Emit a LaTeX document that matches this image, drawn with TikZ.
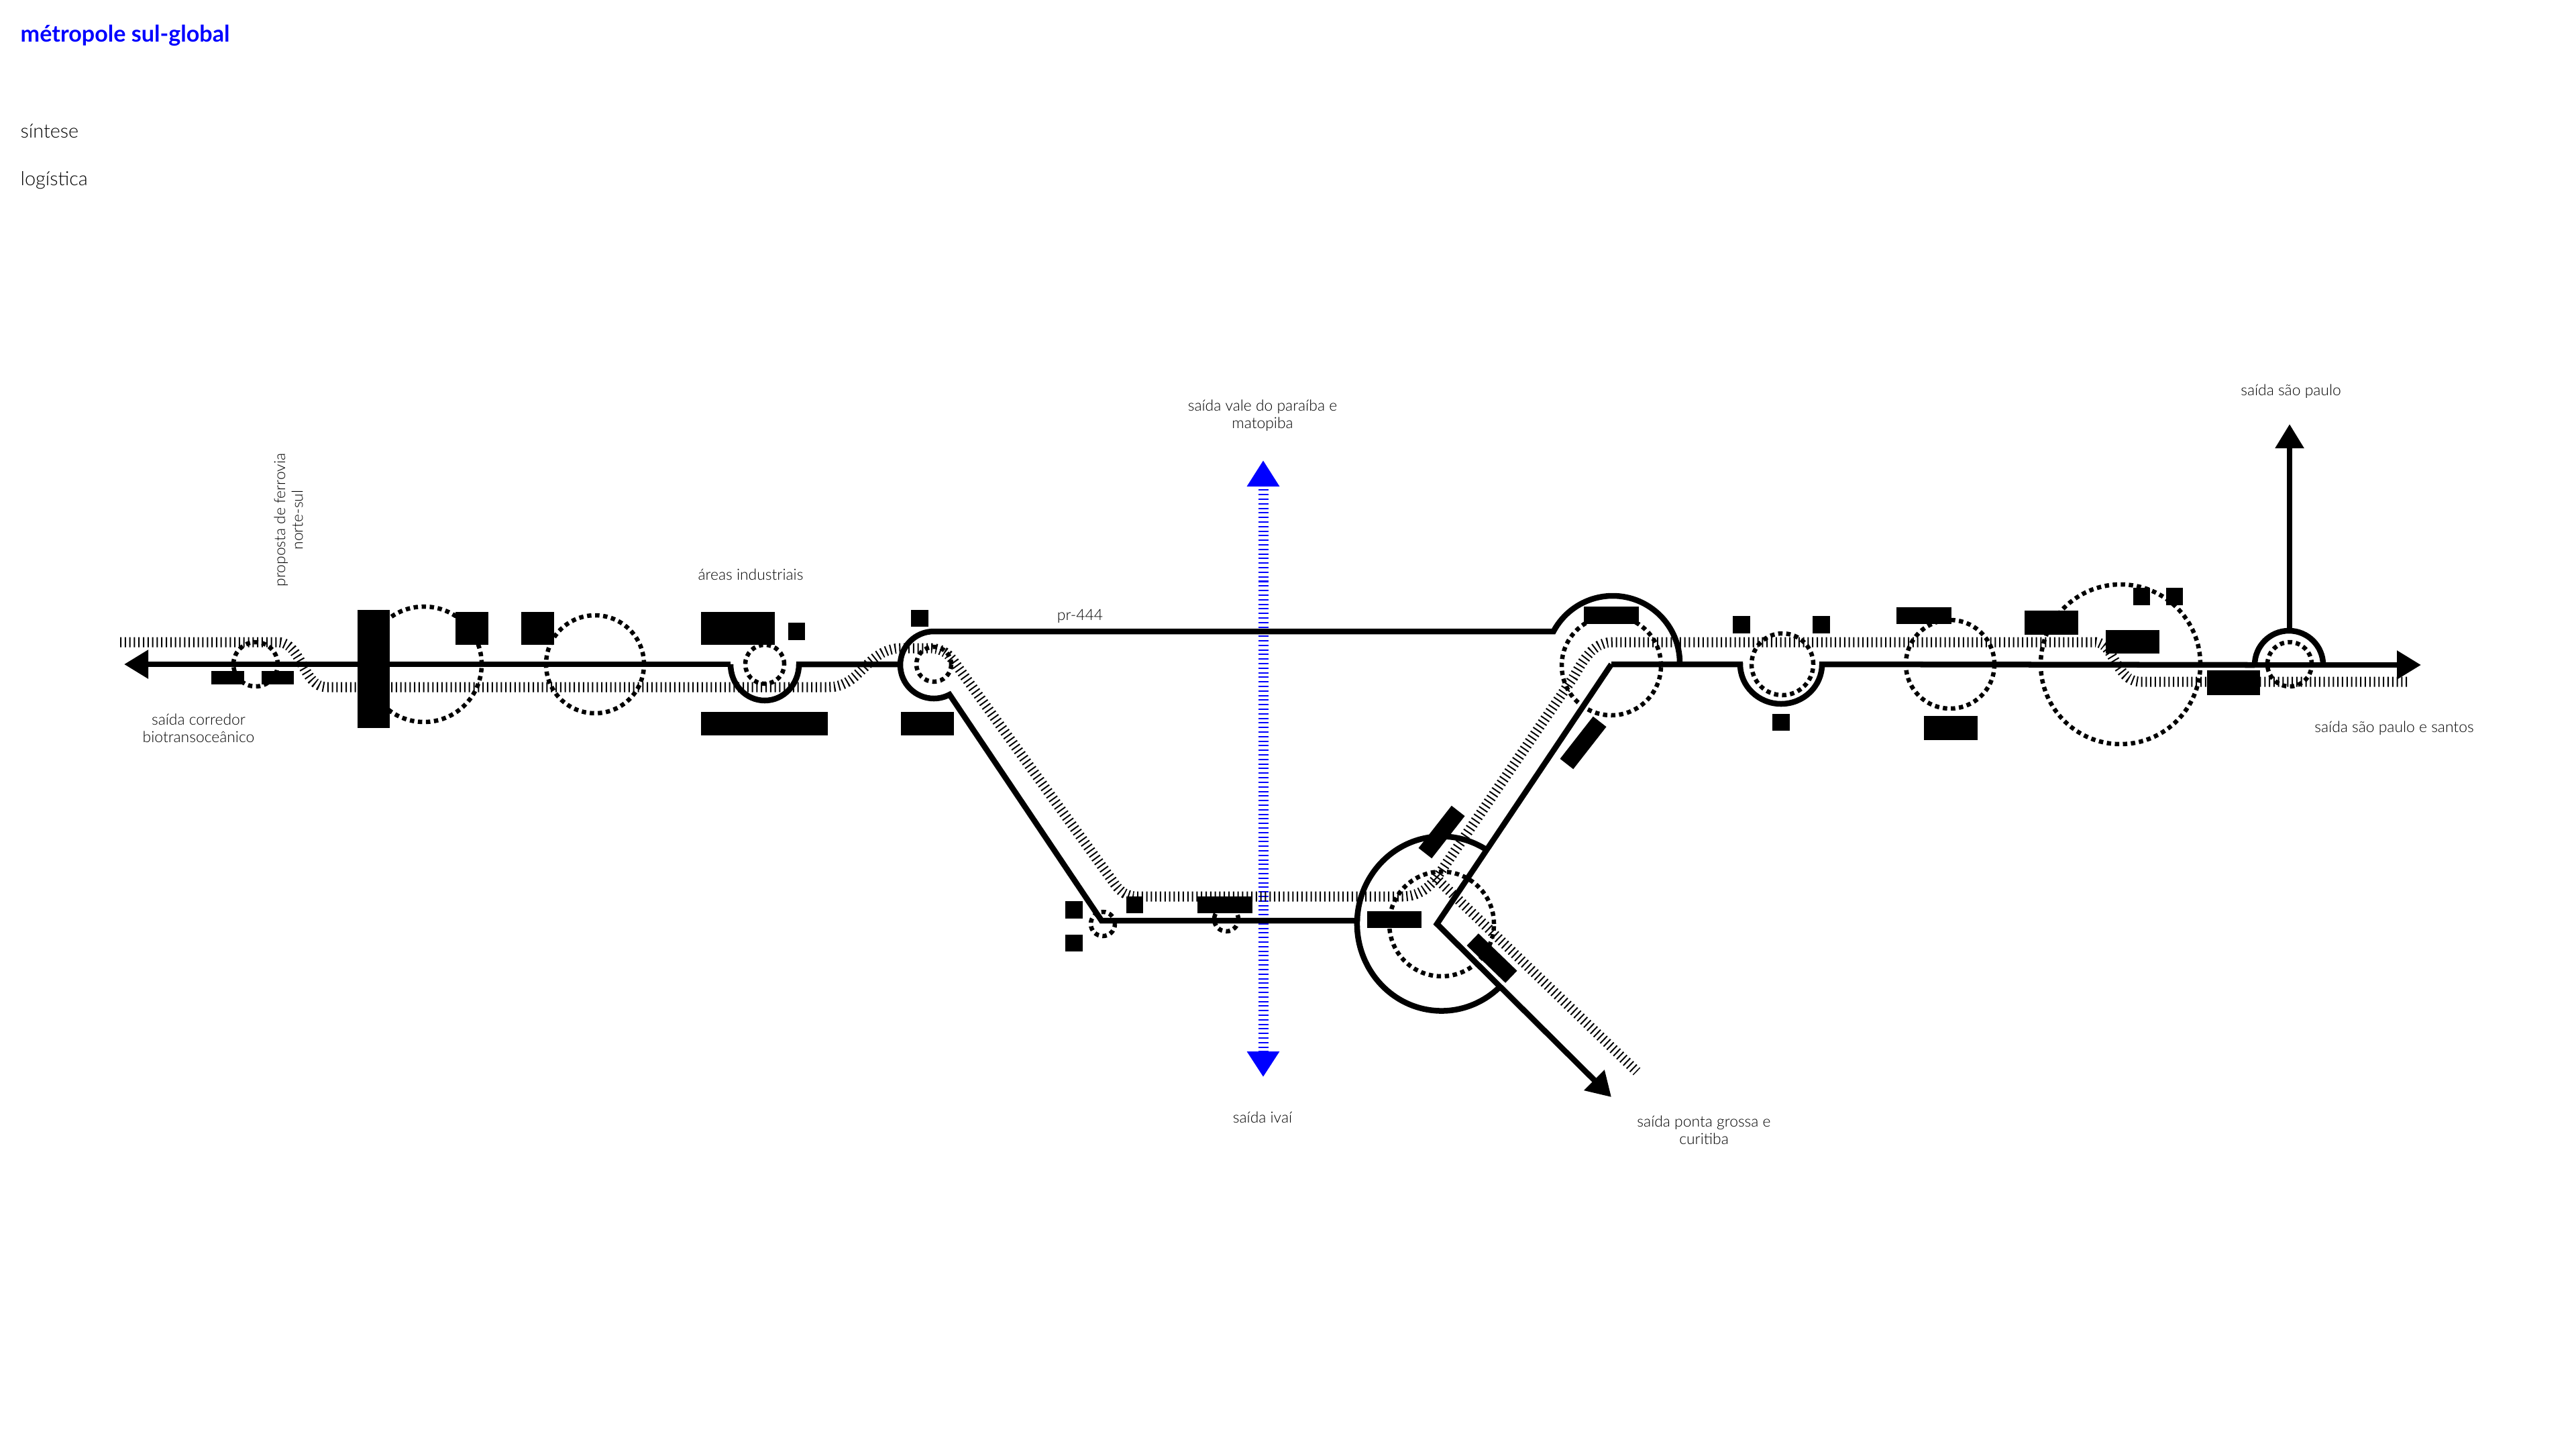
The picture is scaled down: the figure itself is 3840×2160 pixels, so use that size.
\documentclass[tikz,border=0pt]{standalone}
\usepackage{fontspec}
\setmainfont{Lato}
\newfontfamily\leve{Lato Light}
\usetikzlibrary{arrows.meta}
\definecolor{azul}{RGB}{0,0,255}
\tikzset{
  via/.style={line width=.085cm, miter limit=10},
  ferrovia/.style={line width=.15cm, dash pattern=on .02cm off .048cm},
  eixo/.style={azul, line width=.15cm, dash pattern=on .02cm off .048cm},
  anel/.style={circle, draw, inner sep=0pt, line width=.065cm, dash pattern=on .065cm off .055cm},
  bloco/.style={fill=black, inner sep=0pt},
  ponta/.style={-{Triangle[length=.36cm, width=.41cm]}},
  rotulo/.style={font=\leve\fontsize{6.5}{7.5}\selectfont, align=center, inner sep=0pt},
  menu/.style={font=\leve\fontsize{8.2}{10}\selectfont, anchor=base west, inner sep=0pt},
}

\begin{document}
\begin{tikzpicture}[x=.01cm, y=-.01cm]
  \useasboundingbox (0,0) rectangle (3840,2160);

  \node[menu, azul, font=\fontsize{9.7}{12}\selectfont\bfseries] (titulo) at (30,62) {métropole sul-global};
  \node[menu] (sintese) at (30,205) {síntese};
  \node[menu] (logistica) at (30,276) {logística};

  \coordinate (oeste) at (185,990);
  \coordinate (leste) at (3609,991);
  \coordinate (norte) at (3413,632);
  \coordinate (arco) at (3413,940);
  \coordinate (sudeste) at (2402,1635);
  \coordinate (trevo) at (2142,1377);
  \coordinate (curva) at (2402,990);
  \coordinate (ivaitop) at (1883,686);
  \coordinate (ivaibot) at (1883,1605);

  \draw[eixo, {Triangle[length=.39cm, width=.46cm]}-{Triangle[length=.38cm, width=.46cm]}, azul] (ivaitop) -- (ivaibot);

  \draw[ferrovia] (179,957) -- (414,957) .. controls (450,957) and (451,1024) .. (487,1024)
    -- (1235,1024) .. controls (1285,1024) and (1290,966) .. (1345,966) -- (1385,966)
    .. controls (1405,966) and (1415,975) .. (1425,990) -- (1660,1315)
    .. controls (1670,1330) and (1680,1336) .. (1695,1336) -- (2090,1336)
    .. controls (2115,1336) and (2132,1323) .. (2147,1300) -- (2345,1010)
    .. controls (2365,975) and (2378,957) .. (2405,957) -- (3124,957)
    .. controls (3150,957) and (3155,1016) .. (3190,1016) -- (3589,1016);
  \draw[ferrovia] (2140,1308) -- (2440,1597);

  \draw[via, ponta] (1089,990) -- (oeste);
  \draw[via] (1089,990) arc[start angle=180, end angle=0, x radius=51, y radius=54] -- (1342,990);
  \draw[via] (2504,988) arc[start angle=360, end angle=208, radius=100] -- (1392,941)
    arc[start angle=270, end angle=62, radius=50] -- (1642,1372) -- (2023,1372)
    arc[start angle=182, end angle=46, x radius=126, y radius=130];
  \draw[via] (2023,1372) arc[start angle=182, end angle=302, x radius=126, y radius=130];
  \draw[via, ponta] (curva) -- (trevo) -- (sudeste);
  \draw[via] (curva) -- (2594,990) arc[start angle=180, end angle=0, x radius=61, y radius=59] -- (3361,991);
  \draw[via, ponta] (3361,991) -- (leste);
  \draw[via] (3361,991) arc[start angle=180, end angle=360, x radius=51, y radius=51];
  \draw[via, ponta] (arco) -- (norte);

  \foreach \x/\y/\r [count=\i] in {381/990/33, 632/990/86, 887/990/73, 1140/990/29, 1392/990/26,
      1644/1377/18, 1828/1370/18, 2149/1377/78, 2402/992/74, 2657/990/46, 2907/990/66,
      3161/990/119, 3413/990/33}
    \node[anel, minimum size=2*\r*.01cm] (anel\i) at (\x,\y) {};

  \foreach \x/\y/\w/\h [count=\i] in {339.5/1010/49/20, 414/1010/48/20, 557/997/48/176,
      703.5/936.5/49/49, 801.5/936.5/49/49, 1100/936.5/110/49, 1187.5/941/25/26,
      1139.5/1078.5/189/35, 1371/921.5/26/25, 1382.5/1078.5/79/35, 1601/1356/26/26,
      1601/1405.5/26/25, 1691.5/1348.5/25/25, 1826/1348.5/82/25, 2078.5/1370.5/81/25,
      2402/917/82/26, 2596/931/26/26, 2715/931/26/26, 2655/1076.5/26/25, 2868/917.5/82/25,
      2908/1085/80/36, 3058/928/80/36, 3179/956.5/80/35, 3192.5/889/25/26, 3241.5/889/25/26,
      3329.5/1017.5/79/37}
    \node[bloco, minimum width=\w*.01cm, minimum height=\h*.01cm] (bloco\i) at (\x,\y) {};

  \node[bloco, minimum width=.8cm, minimum height=.25cm, rotate=52] (diagA) at (2149,1240) {};
  \node[bloco, minimum width=.8cm, minimum height=.25cm, rotate=52] (diagB) at (2360,1107) {};
  \node[bloco, minimum width=.8cm, minimum height=.25cm, rotate=-44] (diagC) at (2224,1428) {};

  \node[rotulo] (valedoparaiba) at (1882,619) {saída vale do paraíba e\\matopiba};
  \node[rotulo] (saopaulo) at (3415,583) {saída são paulo};
  \node[rotulo] (santos) at (3569,1085) {saída são paulo e santos};
  \node[rotulo] (corredor) at (296,1085) {saída corredor\\biotransoceânico};
  \node[rotulo, rotate=90] (norteSul) at (430,775) {proposta de ferrovia\\norte-sul};
  \node[rotulo] (industriais) at (1119,856) {áreas industriais};
  \node[rotulo] (pr444) at (1610,918) {pr-444};
  \node[rotulo] (ivai) at (1882,1665) {saída ivaí};
  \node[rotulo] (curitiba) at (2540,1684) {saída ponta grossa e\\curitiba};
\end{tikzpicture}
\end{document}
